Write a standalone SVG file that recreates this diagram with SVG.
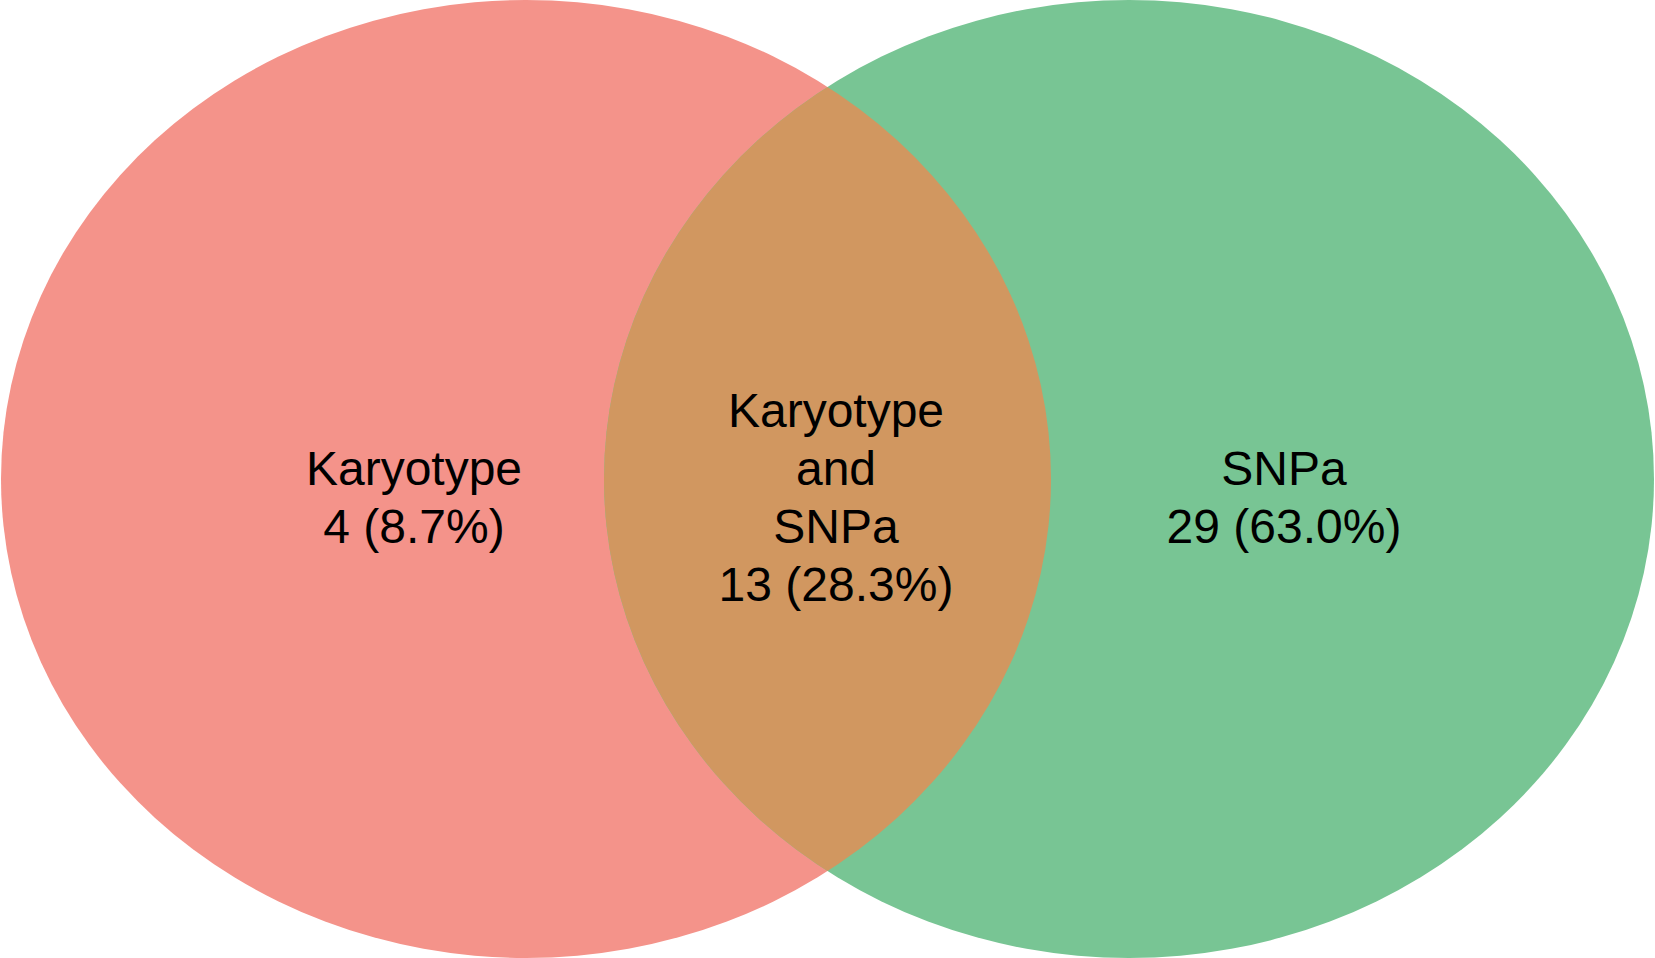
<svg xmlns="http://www.w3.org/2000/svg" width="1655" height="958" viewBox="0 0 1655 958">
<style>
text{font-family:"Liberation Sans",Arial,sans-serif;font-size:48px;fill:#000;text-anchor:middle}
</style>
<defs>
<clipPath id="clipL"><ellipse cx="526" cy="479" rx="525" ry="479"/></clipPath>
</defs>
<rect width="1655" height="958" fill="#fff"/>
<g id="setA">
<ellipse cx="526" cy="479" rx="525" ry="479" fill="#F4938A"/>
</g>
<g id="setB">
<ellipse cx="1129" cy="479" rx="525" ry="479" fill="#78C594"/>
</g>
<g id="overlap">
<ellipse cx="1129" cy="479" rx="525" ry="479" fill="#D19760" clip-path="url(#clipL)"/>
</g>
<g id="labels">
<text x="414" y="485">Karyotype</text>
<text x="414" y="543">4 (8.7%)</text>
<text x="836" y="427">Karyotype</text>
<text x="836" y="485">and</text>
<text x="836" y="543">SNPa</text>
<text x="836" y="601">13 (28.3%)</text>
<text x="1284" y="485">SNPa</text>
<text x="1284" y="543">29 (63.0%)</text>
</g>
<g id="connectors"/>
</svg>
